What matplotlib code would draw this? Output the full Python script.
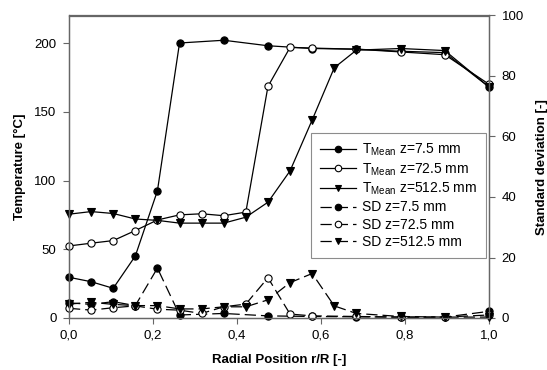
import numpy as np
import matplotlib
matplotlib.use("Agg")
import matplotlib.pyplot as plt
from matplotlib.ticker import FuncFormatter

plt.rcParams['font.family'] = ['Liberation Sans', 'DejaVu Sans']
plt.rcParams['mathtext.default'] = 'regular'

# radial positions (r/R), measured at i/19
idx_all = np.arange(0, 14).tolist() + [15, 17, 19]
idx_75 = [0, 1, 2, 3, 4, 5, 7, 9, 11, 13, 15, 17, 19]
idx_725 = list(range(0, 12)) + [13, 15, 17, 19]
r_75 = [i / 19 for i in idx_75]
r_725 = [i / 19 for i in idx_725]
r_5125 = [i / 19 for i in idx_all]

# mean temperature [°C]
t_75 = [29.6, 26.4, 21.6, 45.1, 92.5, 200, 202, 198, 196, 195.5, 194, 193, 168]
t_725 = [52.4, 54.4, 56.3, 63.6, 71.3, 75, 75.8, 74.4, 77, 168.4, 196.8, 196.3,
         195.5, 193.5, 191.5, 170]
t_5125 = [75.5, 77.4, 76, 72, 71, 69, 69, 69, 73.3, 84.2, 107, 144, 182,
          194.8, 196, 194.5, 168]

# standard deviation [-]
sd_75 = [5.0, 4.5, 5.4, 4.1, 16.5, 1.0, 1.5, 0.7, 0.5, 0.4, 0.3, 0.3, 2.2]
sd_725 = [3.2, 2.6, 3.4, 4.0, 2.9, 2.6, 1.5, 3.7, 4.6, 13.3, 1.3, 0.7,
          0.5, 0.3, 0.3, 1.0]
sd_5125 = [4.6, 5.2, 4.5, 4.1, 4.1, 3.0, 3.0, 3.7, 3.7, 6.0, 11.7, 14.7,
           4.0, 1.5, 0.5, 0.3, 0.3]

fig = plt.figure(figsize=(5.47, 3.70), dpi=100)
ax = fig.add_axes([69 / 547, 1 - 318 / 370, 420 / 547, 302.5 / 370])
ax2 = ax.twinx()

ms = 5.2
common = dict(color='black', lw=0.9, mec='black', mew=0.8, ms=ms, clip_on=False)
dash = (0, (9, 4))

h1, = ax.plot(r_75, t_75, '-', marker='o', mfc='black', **common)
h2, = ax.plot(r_725, t_725, '-', marker='o', mfc='white', **common)
h3, = ax.plot(r_5125, t_5125, '-', marker='v', mfc='black', **common)
h4, = ax2.plot(r_75, sd_75, ls=dash, marker='o', mfc='black', **common)
h5, = ax2.plot(r_725, sd_725, ls=dash, marker='o', mfc='white', **common)
h6, = ax2.plot(r_5125, sd_5125, ls=dash, marker='v', mfc='black', **common)

ax.set_xlim(0, 1)
ax.set_ylim(0, 220)
ax2.set_ylim(0, 100)
ax.set_xticks([0, 0.2, 0.4, 0.6, 0.8, 1.0])
ax.set_yticks([0, 50, 100, 150, 200])
ax2.set_yticks([0, 20, 40, 60, 80, 100])
ax.xaxis.set_major_formatter(FuncFormatter(lambda v, p: f"{v:.1f}".replace('.', ',')))

spine_c = '0.4'
for a in (ax, ax2):
    for s in a.spines.values():
        s.set_color(spine_c)
        s.set_linewidth(0.9)
    a.tick_params(labelsize=9.5, length=4, width=0.8, color=spine_c, pad=4)
ax.tick_params(axis='y', pad=5)
ax2.tick_params(axis='y', pad=5)

ax.set_xlabel('Radial Position r/R [-]', fontsize=9.5, fontweight='bold', labelpad=9)
ax.set_ylabel('Temperature [°C]', fontsize=9.5, fontweight='bold', labelpad=6)
ax2.set_ylabel('Standard deviation [-]', fontsize=9.5, fontweight='bold', labelpad=9)

labels = [r'$T_{Mean}$ z=7.5 mm', r'$T_{Mean}$ z=72.5 mm', r'$T_{Mean}$ z=512.5 mm',
          'SD z=7.5 mm', 'SD z=72.5 mm', 'SD z=512.5 mm']
leg = ax2.legend([h1, h2, h3, h4, h5, h6], labels, loc='upper right',
                 bbox_to_anchor=(0.993, 0.613), borderaxespad=0, fontsize=10,
                 fancybox=False, framealpha=1, edgecolor='0.55',
                 handlelength=2.6, handletextpad=0.45, labelspacing=0.23,
                 borderpad=0.65, markerscale=0.9)
leg.get_frame().set_linewidth(0.8)

fig.savefig('out.png', dpi=100)
